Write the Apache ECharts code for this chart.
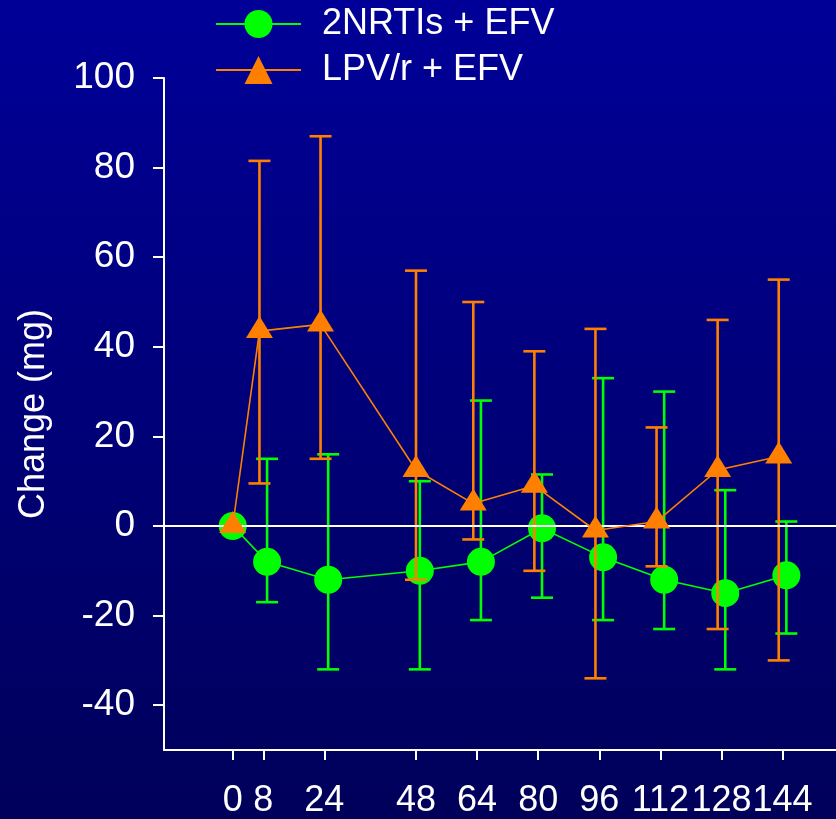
<!DOCTYPE html>
<html>
<head>
<meta charset="utf-8">
<script src="https://cdn.jsdelivr.net/npm/echarts@6/dist/echarts.min.js"></script>
<style>
  html, body { margin: 0; padding: 0; }
  #chart { width: 836px; height: 819px; }
</style>
</head>
<body>
<div id="chart"></div>
<script>
// Week tick labels along the x axis
const weekTicks = [0, 8, 24, 48, 64, 80, 96, 112, 128, 144];
// Y tick labels
const yTicks = [-40, -20, 0, 20, 40, 60, 80, 100];

// 2NRTIs + EFV: plotted week position, mean change, error-bar low/high
const nrtiWeeks = [0, 9, 25, 49, 65, 81, 97, 113, 129, 145];
const nrtiMean  = [0, -8, -12, -10, -8, -0.5, -7, -12, -15, -11];
const nrtiLow   = [0, -17, -32, -32, -21, -16, -21, -23, -32, -24];
const nrtiHigh  = [0, 15, 16, 10, 28, 11.5, 33, 30, 8, 1];

// LPV/r + EFV: plotted week position, mean change, error-bar low/high
const lpvWeeks = [0, 7, 23, 48, 63, 79, 95, 111, 127, 143];
const lpvMean  = [0, 43.5, 45, 12.5, 5, 9, -1, 1, 12.5, 15.5];
const lpvLow   = [0, 9.5, 15, -12, -3, -10, -34, -9, -23, -30];
const lpvHigh  = [0, 81.5, 87, 57, 50, 39, 44, 22, 46, 55];

const GREEN = '#00ff00';
const ORANGE = '#ff8000';
const FONT = 'Liberation Sans, Arial, sans-serif';

function pairs(xs, ys) { return xs.map((x, i) => [x, ys[i]]); }
function bars(xs, lo, hi) {
  return xs.map((x, i) => [x, lo[i], hi[i]]).filter(d => d[1] !== d[2]);
}

function errorBarRenderer(color) {
  return function (params, api) {
    const x = api.value(0);
    const pLo = api.coord([x, api.value(1)]);
    const pHi = api.coord([x, api.value(2)]);
    const half = 11;
    const style = { stroke: color, lineWidth: 2.6 };
    return {
      type: 'group',
      children: [
        { type: 'line', shape: { x1: pLo[0], y1: pLo[1], x2: pHi[0], y2: pHi[1] }, style },
        { type: 'line', shape: { x1: pLo[0] - half, y1: pLo[1], x2: pLo[0] + half, y2: pLo[1] }, style },
        { type: 'line', shape: { x1: pHi[0] - half, y1: pHi[1], x2: pHi[0] + half, y2: pHi[1] }, style }
      ]
    };
  };
}

const chart = echarts.init(document.getElementById('chart'), null, { renderer: 'canvas' });

chart.setOption({
  animation: false,
  backgroundColor: {
    type: 'linear', x: 0, y: 0, x2: 0, y2: 1,
    colorStops: [
      { offset: 0, color: '#000098' },
      { offset: 1, color: '#00005a' }
    ]
  },
  textStyle: { fontFamily: FONT },
  grid: { left: 164, top: 78, right: 0, bottom: 67, containLabel: false },
  legend: {
    orient: 'vertical',
    left: 210,
    top: 1,
    itemWidth: 85,
    itemHeight: 35,
    itemGap: 10,
    data: ['2NRTIs + EFV', 'LPV/r + EFV'],
    textStyle: { color: '#ffffff', fontSize: 36, fontFamily: FONT, padding: [0, 0, 0, 16] }
  },
  xAxis: {
    type: 'value',
    min: -18,
    max: 158,
    axisLine: { show: true, onZero: false, lineStyle: { color: '#ffffff', width: 2 } },
    axisTick: { show: true, length: 10, customValues: weekTicks, lineStyle: { color: '#ffffff', width: 2 } },
    axisLabel: {
      show: true, customValues: weekTicks, color: '#ffffff', fontSize: 36,
      fontFamily: FONT, margin: 33
    },
    splitLine: { show: false }
  },
  yAxis: {
    type: 'value',
    min: -50,
    max: 100,
    name: 'Change (mg)',
    nameLocation: 'middle',
    nameGap: 112,
    nameTextStyle: { color: '#ffffff', fontSize: 36, fontFamily: FONT },
    axisLine: { show: true, onZero: false, lineStyle: { color: '#ffffff', width: 2 } },
    axisTick: { show: true, length: 11, customValues: yTicks, lineStyle: { color: '#ffffff', width: 2 } },
    axisLabel: {
      show: true, customValues: yTicks, color: '#ffffff', fontSize: 37,
      fontFamily: FONT, margin: 29
    },
    splitLine: { show: false }
  },
  series: [
    {
      name: 'nrti-bars',
      type: 'custom',
      z: 2,
      renderItem: errorBarRenderer(GREEN),
      data: bars(nrtiWeeks, nrtiLow, nrtiHigh),
      markLine: {
        silent: true,
        symbol: 'none',
        label: { show: false },
        lineStyle: { color: '#ffffff', width: 2, type: 'solid' },
        data: [{ yAxis: 0 }]
      }
    },
    {
      name: '2NRTIs + EFV',
      type: 'line',
      z: 3,
      data: pairs(nrtiWeeks, nrtiMean),
      symbol: 'circle',
      symbolSize: 28,
      lineStyle: { color: GREEN, width: 1.6 },
      itemStyle: { color: GREEN }
    },
    {
      name: 'lpv-bars',
      type: 'custom',
      z: 4,
      renderItem: errorBarRenderer(ORANGE),
      data: bars(lpvWeeks, lpvLow, lpvHigh)
    },
    {
      name: 'LPV/r + EFV',
      type: 'line',
      z: 5,
      data: pairs(lpvWeeks, lpvMean),
      symbol: 'triangle',
      symbolSize: [27, 22],
      symbolOffset: [0, -4],
      lineStyle: { color: ORANGE, width: 1.6 },
      itemStyle: { color: ORANGE }
    }
  ]
});
</script>
</body>
</html>
